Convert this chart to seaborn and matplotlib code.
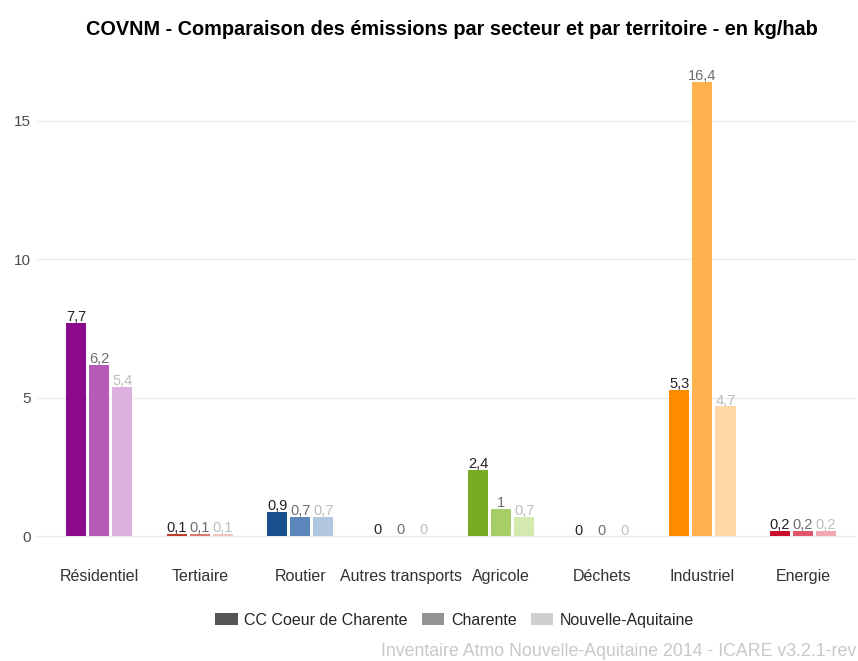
import pandas as pd
import matplotlib
matplotlib.use("Agg")
from matplotlib import pyplot as plt
from matplotlib.patches import Patch
import seaborn as sns

# donnees (kg/hab)
secteurs = ["Résidentiel", "Tertiaire", "Routier", "Autres transports",
            "Agricole", "Déchets", "Industriel", "Energie"]
territoires = ["CC Coeur de Charente", "Charente", "Nouvelle-Aquitaine"]
cc_coeur = [7.7, 0.1, 0.9, 0.03, 2.4, 0.0, 5.3, 0.2]
charente = [6.2, 0.1, 0.7, 0.02, 1.0, 0.0, 16.4, 0.2]
nouvelle_aq = [5.4, 0.1, 0.7, 0.02, 0.7, 0.0, 4.7, 0.2]

couleurs = {
    "Résidentiel": ["#8b0a8b", "#b65ab8", "#dcb0df"],
    "Tertiaire": ["#c0392b", "#e07a6e", "#f2c2bc"],
    "Routier": ["#174f8f", "#5b87bd", "#b1c6df"],
    "Autres transports": ["#3d78b8", "#7aa5d2", "#c2d6ea"],
    "Agricole": ["#7aab25", "#a6cd66", "#d5e8b0"],
    "Déchets": ["#7f6a50", "#a8967f", "#d6ccc0"],
    "Industriel": ["#ff8c00", "#ffb14e", "#ffd8a6"],
    "Energie": ["#c8102e", "#e0566a", "#f0a8b2"],
}
couleurs_label = ["#222222", "#6e6e6e", "#bdbdbd"]
couleurs_legende = ["#555555", "#939393", "#cfcfcf"]

df = pd.DataFrame({
    "secteur": secteurs * 3,
    "territoire": [t for t in territoires for _ in secteurs],
    "valeur": cc_coeur + charente + nouvelle_aq,
})

sns.set_theme(style="whitegrid")
plt.rcParams["font.family"] = ["Liberation Sans", "DejaVu Sans"]

fig = plt.figure(figsize=(8.58, 6.61), dpi=100)
ax = fig.add_axes([0.043, 0.154, 0.956, 0.76])

sns.barplot(data=df, x="secteur", y="valeur", hue="territoire",
            order=secteurs, hue_order=territoires,
            width=0.69, gap=0.13, legend=False, ax=ax)

for h, cont in enumerate(ax.containers):
    for i, bar in enumerate(cont):
        bar.set_facecolor(couleurs[secteurs[i]][h])
        bar.set_edgecolor("none")
    vals = [cc_coeur, charente, nouvelle_aq][h]
    labels = []
    for v in vals:
        s = f"{v:.1f}".replace(".", ",")
        if s.endswith(",0"):
            s = s[:-2]
        labels.append(s)
    ax.bar_label(cont, labels=labels, padding=-1, fontsize=10.5,
                 color=couleurs_label[h])

ax.set_xlim(-0.62, 7.54)
ax.set_ylim(-0.82, 17.3)
ax.set_yticks([0, 5, 10, 15])
ax.set_xlabel("")
ax.set_ylabel("")
ax.grid(axis="x", visible=False)
ax.grid(axis="y", color="#ebebeb", linewidth=1)
for s in ax.spines.values():
    s.set_visible(False)
ax.tick_params(axis="both", length=0, labelsize=11, colors="#4d4d4d", pad=4)
ax.tick_params(axis="x", pad=7, labelsize=11.5)
for t in ax.get_xticklabels():
    t.set_color("#333333")

fig.suptitle("COVNM - Comparaison des émissions par secteur et par territoire - en kg/hab",
             x=0.527, y=0.97, fontsize=14.3, fontweight="bold", color="black")

handles = [Patch(facecolor=c, edgecolor="none") for c in couleurs_legende]
fig.legend(handles, territoires, loc="center", bbox_to_anchor=(0.53, 0.062),
           ncol=3, frameon=False, fontsize=11.5, handlelength=1.4,
           handleheight=0.75, columnspacing=0.9, handletextpad=0.4)

fig.text(0.998, 0.002, "Inventaire Atmo Nouvelle-Aquitaine 2014 - ICARE v3.2.1-rev",
         ha="right", va="bottom", fontsize=12.8, color="#c8c8c8")

fig.savefig("out.png", dpi=100)
